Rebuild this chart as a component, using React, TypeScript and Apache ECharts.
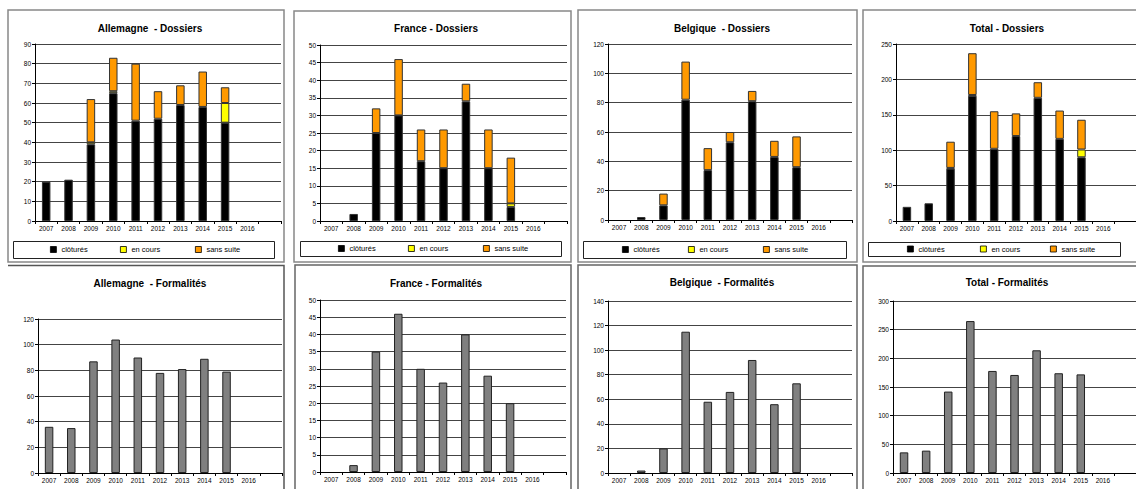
import React, { useRef, useEffect } from "react";
import * as echarts from "echarts";

const years = ["2007", "2008", "2009", "2010", "2011", "2012", "2013", "2014", "2015", "2016", ""];
const legendNames = ["clôturés", "en cours", "sans suite"];

// Dossiers
const allemagneClotures = [20, 21, 39, 65, 51, 52, 59, 58, 50];
const allemagneEnCours = [0, 0, 1, 1, 0, 0, 0, 0, 10];
const allemagneSansSuite = [0, 0, 22, 17, 29, 14, 10, 18, 8];

const franceClotures = [0, 2, 25, 30, 17, 15, 34, 15, 4];
const franceEnCours = [0, 0, 0, 0, 0, 0, 0, 0, 1];
const franceSansSuite = [0, 0, 7, 16, 9, 11, 5, 11, 13];

const belgiqueClotures = [0, 2, 10, 82, 34, 53, 81, 43, 36];
const belgiqueEnCours = [0, 0, 0, 0, 0, 0, 0, 0, 0];
const belgiqueSansSuite = [0, 0, 8, 26, 15, 7, 7, 11, 21];

const totalClotures = [20, 25, 74, 177, 102, 120, 174, 116, 90];
const totalEnCours = [0, 0, 1, 1, 0, 0, 0, 0, 11];
const totalSansSuite = [0, 0, 37, 59, 53, 32, 22, 40, 42];

// Formalités
const allemagneFormalites = [36, 35, 87, 104, 90, 78, 81, 89, 79];
const franceFormalites = [0, 2, 35, 46, 30, 26, 40, 28, 20];
const belgiqueFormalites = [0, 2, 20, 115, 58, 66, 92, 56, 73];
const totalFormalites = [36, 39, 142, 265, 178, 171, 214, 174, 172];

// y-axis scales
const dossiersScales = [[90, 10], [50, 5], [120, 20], [250, 50]];
const formalitesScales = [[120, 20], [50, 5], [140, 20], [300, 50]];

const titles = [
  "Allemagne  - Dossiers", "France - Dossiers", "Belgique  - Dossiers", "Total - Dossiers",
  "Allemagne  - Formalités", "France - Formalités", "Belgique  - Formalités", "Total - Formalités",
];

const FONT = '"Liberation Sans", Arial, sans-serif';

// layout
const grids = [
  { left: 35, top: 44, width: 246, height: 177 },
  { left: 320, top: 45, width: 247, height: 176 },
  { left: 608, top: 44, width: 244, height: 176 },
  { left: 896, top: 44, width: 244, height: 177 },
  { left: 38, top: 319, width: 244, height: 154 },
  { left: 320, top: 300, width: 246, height: 172 },
  { left: 608, top: 301, width: 244, height: 172 },
  { left: 893, top: 301, width: 244, height: 172 },
];
const titlePos = [
  [150, 29], [436, 29], [722, 29], [1007, 29],
  [150, 284], [436, 284], [722, 283], [1007, 283],
];
const legendBoxes = [
  { x: 13, y: 241, w: 261, h: 17, items: [50, 120, 195] },
  { x: 300, y: 241, w: 261, h: 15, items: [338, 408, 483] },
  { x: 583, y: 241, w: 263, h: 17, items: [622, 688, 763] },
  { x: 868, y: 242, w: 252, h: 14, items: [907, 980, 1050] },
];
const topBorders = [
  { x: 8, y: 10, w: 276, h: 252 },
  { x: 294, y: 11, w: 277, h: 251 },
  { x: 578, y: 10, w: 279, h: 252 },
  { x: 863, y: 10, w: 280, h: 252 },
];
const bottomBorders = [
  { x: 295, y: 265, w: 276, h: 240 },
  { x: 578, y: 265, w: 279, h: 240 },
  { x: 863, y: 266, w: 280, h: 240 },
];

const nz = (arr: number[]) => arr.map((v) => (v === 0 ? null : v));

export default function App() {
  const ref = useRef<HTMLDivElement>(null);
  useEffect(() => {
    if (!ref.current) return;
    const chart = echarts.init(ref.current, undefined, { renderer: "svg" });

    const scales = [...dossiersScales, ...formalitesScales];
    const xAxis = grids.map((_, i) => ({
      type: "category",
      gridIndex: i,
      data: years,
      axisLine: { show: true, lineStyle: { color: "#000", width: 1 } },
      axisTick: { show: true, length: 3, lineStyle: { color: "#000" } },
      axisLabel: { fontSize: 6.5, color: "#000", fontFamily: FONT, margin: 4, interval: 0 },
      splitLine: { show: false },
    }));
    const yAxis = grids.map((_, i) => ({
      type: "value",
      gridIndex: i,
      min: 0,
      max: scales[i][0],
      interval: scales[i][1],
      axisLine: { show: true, lineStyle: { color: "#000", width: 1 } },
      axisTick: { show: true, length: 3, lineStyle: { color: "#000" } },
      axisLabel: { fontSize: 6.5, color: "#000", fontFamily: FONT, margin: 4 },
      splitLine: { show: true, lineStyle: { color: "#444", width: 1 } },
    }));

    const dossiers = [
      [allemagneClotures, allemagneEnCours, allemagneSansSuite],
      [franceClotures, franceEnCours, franceSansSuite],
      [belgiqueClotures, belgiqueEnCours, belgiqueSansSuite],
      [totalClotures, totalEnCours, totalSansSuite],
    ];
    const colors = ["#000000", "#FFFF00", "#FF9900"];
    const series: any[] = [];
    dossiers.forEach((set, p) => {
      set.forEach((arr, k) => {
        series.push({
          type: "bar",
          name: legendNames[k],
          xAxisIndex: p,
          yAxisIndex: p,
          stack: "s" + p,
          barWidth: 8.5,
          data: nz(arr),
          itemStyle: { color: colors[k], borderColor: "#333", borderWidth: 1 },
        });
      });
    });
    [allemagneFormalites, franceFormalites, belgiqueFormalites, totalFormalites].forEach((arr, p) => {
      series.push({
        type: "bar",
        name: "Formalités",
        xAxisIndex: 4 + p,
        yAxisIndex: 4 + p,
        barWidth: 8.5,
        data: nz(arr),
        itemStyle: { color: "#808080", borderColor: "#222", borderWidth: 1 },
      });
    });

    const legend: any[] = [];
    legendBoxes.forEach((b) => {
      b.items.forEach((x, k) => {
        legend.push({
          data: [legendNames[k]],
          left: x,
          top: b.y + b.h / 2 - 4,
          padding: 0,
          icon: "rect",
          itemWidth: 6,
          itemHeight: 6,
          selectedMode: false,
          itemStyle: { borderColor: "#000", borderWidth: 0.8 },
          textStyle: { fontSize: 7.5, color: "#000", fontFamily: FONT },
        });
      });
    });

    const graphic: any[] = [];
    topBorders.forEach((b) =>
      graphic.push({
        type: "rect",
        shape: { x: b.x, y: b.y, width: b.w, height: b.h },
        style: { fill: "none", stroke: "#888", lineWidth: 1.5 },
        silent: true,
      })
    );
    graphic.push({
      type: "polyline",
      shape: { points: [[8, 265.5], [284, 265.5], [284, 500]] },
      style: { fill: "none", stroke: "#555", lineWidth: 1.5 },
      silent: true,
    });
    bottomBorders.forEach((b) =>
      graphic.push({
        type: "rect",
        shape: { x: b.x, y: b.y, width: b.w, height: b.h },
        style: { fill: "none", stroke: "#666", lineWidth: 1.5 },
        silent: true,
      })
    );
    legendBoxes.forEach((b) =>
      graphic.push({
        type: "rect",
        shape: { x: b.x + 0.5, y: b.y + 0.5, width: b.w, height: b.h },
        style: { fill: "none", stroke: "#222", lineWidth: 1 },
        silent: true,
      })
    );

    chart.setOption({
      animation: false,
      backgroundColor: "#fff",
      title: titles.map((t, i) => ({
        text: t,
        left: titlePos[i][0],
        top: titlePos[i][1] - 6,
        textAlign: "center",
        padding: 0,
        textStyle: { fontSize: 10, fontWeight: "bold", fontFamily: FONT, color: "#000" },
      })),
      grid: grids.map((g) => ({ ...g, containLabel: false })),
      xAxis,
      yAxis,
      legend,
      series,
      graphic,
    });
    return () => chart.dispose();
  }, []);
  return (
    <div
      ref={ref}
      style={{ position: "fixed", left: 0, top: 0, width: 1136, height: 489, background: "#fff" }}
    />
  );
}
